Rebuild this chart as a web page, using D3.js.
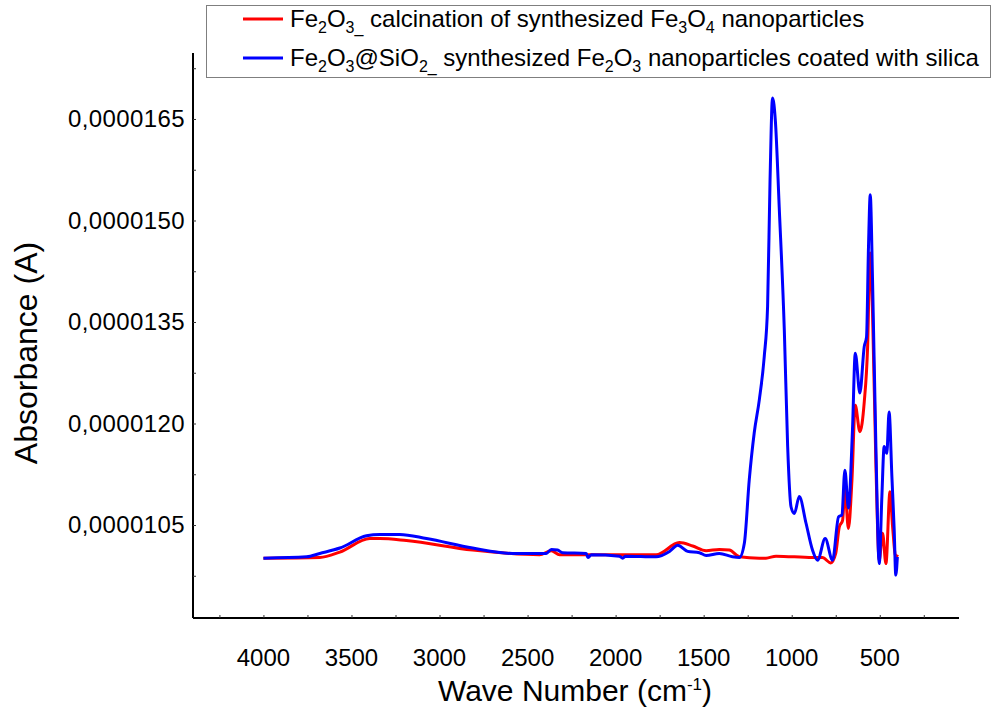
<!DOCTYPE html>
<html>
<head>
<meta charset="utf-8">
<script src="https://cdn.jsdelivr.net/npm/d3@7"></script>
<style>
  body { margin: 0; background: #fff; }
  svg { display: block; font-family: "Liberation Sans", Arial, sans-serif; }
</style>
</head>
<body>
<svg id="chart" width="997" height="713"></svg>
<script>
// FTIR spectra, absorbance in units of 1e-6 A
const wnRed = [4000, 3680, 3566, 3396, 3339, 3188, 2812, 2432, 2365, 2318, 1770, 1638, 1562, 1486, 1411, 1354, 1297, 1184, 1146, 1089, 882, 826, 778, 750, 730, 711, 698, 678, 658, 639, 613, 588, 569, 555, 541, 522, 503, 484, 465, 442, 427, 409, 398];
const absRed = [10.01, 10.02, 10.10, 10.30, 10.30, 10.27, 10.13, 10.06, 10.12, 10.06, 10.06, 10.24, 10.19, 10.12, 10.14, 10.13, 10.03, 10.01, 10.01, 10.04, 10.02, 10.02, 9.94, 10.08, 10.47, 10.57, 11.02, 10.45, 11.16, 12.27, 11.88, 12.32, 13.13, 14.52, 13.63, 11.41, 9.98, 10.38, 9.93, 10.99, 10.47, 10.03, 10.06];

const wnBlue = [4000, 3755, 3680, 3566, 3415, 3339, 3226, 3074, 2812, 2585, 2394, 2365, 2330, 2301, 2167, 2158, 2137, 1978, 1960, 1944, 1770, 1694, 1647, 1591, 1524, 1486, 1411, 1337, 1297, 1269, 1241, 1213, 1184, 1156, 1137, 1123, 1109, 1093, 1071, 1042, 1023, 1004, 985, 957, 919, 882, 853, 810, 768, 734, 715, 698, 678, 655, 639, 613, 588, 575, 564, 554, 541, 522, 503, 488, 475, 460, 447, 431, 418, 409, 400];
const absBlue = [10.01, 10.03, 10.08, 10.16, 10.34, 10.36, 10.36, 10.30, 10.16, 10.08, 10.08, 10.14, 10.13, 10.09, 10.08, 10.02, 10.06, 10.04, 10.01, 10.04, 10.03, 10.11, 10.20, 10.11, 10.09, 10.05, 10.08, 10.03, 10.02, 10.23, 11.17, 11.86, 12.35, 12.99, 13.73, 15.60, 16.81, 16.48, 15.20, 13.38, 11.66, 10.77, 10.67, 10.92, 10.53, 10.13, 9.98, 10.30, 9.98, 10.62, 10.65, 11.31, 10.75, 11.90, 13.04, 12.45, 13.14, 13.28, 14.61, 15.38, 14.12, 11.66, 9.93, 10.92, 11.66, 11.56, 12.17, 11.21, 10.43, 9.76, 10.03];

const xTicks = [4000, 3500, 3000, 2500, 2000, 1500, 1000, 500];
const yTicks = [10.5, 12.0, 13.5, 15.0, 16.5];

const svg = d3.select("#chart");
const margin = {top: 53, right: 38, bottom: 95, left: 193};
const width = 997 - margin.left - margin.right;
const height = 713 - margin.top - margin.bottom;

const x = d3.scaleLinear().domain([4400, 50]).range([0, width]);
const y = d3.scaleLinear().domain([9.126, 17.475]).range([height, 0]);

const g = svg.append("g").attr("transform", `translate(${margin.left},${margin.top})`);

// axes: inward minor ticks, labels drawn separately
g.append("g")
  .attr("transform", `translate(0,${height})`)
  .call(d3.axisBottom(x).tickValues(d3.range(4250, 50, -250)).tickSize(-3).tickFormat(""))
  .call(a => a.select(".domain").attr("stroke-width", 2).attr("d", `M0,0H${width}`));

g.append("g")
  .call(d3.axisLeft(y).tickValues(d3.range(9.75, 17.4, 0.75)).tickSize(-3).tickFormat(""))
  .call(a => a.select(".domain").attr("stroke-width", 2).attr("d", `M0,0V${height}`));

g.selectAll("line").attr("stroke", "#333");

g.append("g").selectAll("text")
  .data(xTicks)
  .join("text")
    .attr("x", d => x(d))
    .attr("y", height + 48)
    .attr("text-anchor", "middle")
    .style("font-size", "24px")
    .text(d => d);

const fmt = d => d3.format(".7f")(d * 1e-6).replace(".", ",");
g.append("g").selectAll("text")
  .data(yTicks)
  .join("text")
    .attr("x", -8)
    .attr("y", d => y(d))
    .attr("dy", "0.35em")
    .attr("text-anchor", "end")
    .style("font-size", "24px")
    .style("letter-spacing", "0.4px")
    .text(fmt);

// spectra
const line = d3.line()
  .x(d => x(d[0]))
  .y(d => y(d[1]))
  .curve(d3.curveMonotoneX);

g.append("path")
  .datum(d3.zip(wnRed, absRed))
  .attr("fill", "none")
  .attr("stroke", "#ff0000")
  .attr("stroke-width", 3)
  .attr("d", line);

g.append("path")
  .datum(d3.zip(wnBlue, absBlue))
  .attr("fill", "none")
  .attr("stroke", "#0000ff")
  .attr("stroke-width", 3)
  .attr("d", line);

// axis titles
svg.append("text")
  .attr("transform", "translate(37,353) rotate(-90)")
  .attr("text-anchor", "middle")
  .style("font-size", "32px")
  .text("Absorbance (A)");

const xt = svg.append("text")
  .attr("x", 575)
  .attr("y", 701)
  .attr("text-anchor", "middle")
  .style("font-size", "30px");
xt.append("tspan").text("Wave Number (cm");
xt.append("tspan").attr("dy", -11).style("font-size", "17px").text("-1");
xt.append("tspan").attr("dy", 11).text(")");

// legend
const legend = svg.append("g");
legend.append("rect")
  .attr("x", 206.5).attr("y", 5.5)
  .attr("width", 784).attr("height", 72)
  .attr("fill", "#fff")
  .attr("stroke", "#7f7f7f");

const items = [
  {color: "#ff0000", parts: [["Fe"], ["2", 1], ["O"], ["3_", 1], [" calcination of synthesized Fe"], ["3", 1], ["O"], ["4", 1], [" nanoparticles"]]},
  {color: "#0000ff", parts: [["Fe"], ["2", 1], ["O"], ["3", 1], ["@SiO"], ["2_", 1], [" synthesized Fe"], ["2", 1], ["O"], ["3", 1], [" nanoparticles coated with silica"]]}
];

items.forEach((it, i) => {
  const cy = 19 + i * 39;
  legend.append("line")
    .attr("x1", 243).attr("x2", 283)
    .attr("y1", cy).attr("y2", cy)
    .attr("stroke", it.color)
    .attr("stroke-width", 3);
  const t = legend.append("text")
    .attr("x", 290)
    .attr("y", cy + 8)
    .style("font-size", "24px");
  it.parts.forEach(([s, sub]) => {
    t.append("tspan")
      .attr("baseline-shift", sub ? "-35%" : null)
      .style("font-size", sub ? "16px" : null)
      .text(s);
  });
});
</script>
</body>
</html>
